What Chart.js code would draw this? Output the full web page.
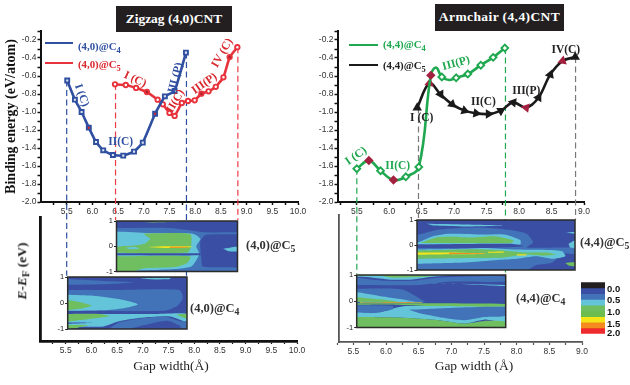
<!DOCTYPE html>
<html><head><meta charset="utf-8">
<script src="https://cdn.jsdelivr.net/npm/chart.js@4"></script>
<style>
html,body{margin:0;padding:0;background:#fff;width:630px;height:385px;overflow:hidden}
#stage{position:relative;width:630px;height:385px;filter:blur(.35px)}
canvas{position:absolute;left:0;top:0}
.t{position:absolute;font-family:"Liberation Serif",serif;font-weight:bold;white-space:nowrap;line-height:1}
.t sub{font-size:.78em;line-height:0;vertical-align:-.3em}
.box{position:absolute;background:#231f20;color:#fff;font:bold 13.5px "Liberation Serif",serif;display:flex;align-items:center;justify-content:center}
.lg{position:absolute;height:2.5px}
</style></head>
<body><div id="stage"></div>
<script>
// ---------- top panels: binding energy ----------
const zigzagC4X=[5.51,5.66,5.79,5.93,6.07,6.21,6.40,6.60,6.81,6.98,7.22,7.41,7.60,7.82];
const zigzagC4Y=[-0.65,-0.863,-1.0,-1.174,-1.333,-1.426,-1.478,-1.485,-1.44,-1.34,-1.02,-0.826,-0.767,-0.34];
const zigzagC5X=[6.44,6.65,6.85,7.06,7.27,7.37,7.5,7.60,7.74,7.86,7.99,8.12,8.26,8.40,8.55,8.67,8.82];
const zigzagC5Y=[-0.693,-0.70,-0.733,-0.778,-0.863,-0.915,-1.01,-1.044,-0.90,-0.878,-0.87,-0.796,-0.77,-0.72,-0.615,-0.39,-0.28];
const armchairC4X=[5.5,5.685,5.865,6.065,6.255,6.455,6.64,6.72,6.81,6.92,7.03,7.21,7.41,7.6,7.78];
const armchairC4Y=[-1.63,-1.54,-1.652,-1.756,-1.72,-1.61,-0.593,-0.505,-0.61,-0.645,-0.62,-0.578,-0.48,-0.393,-0.29];
const armchairC4NoMarker=[6.72,6.92];
const armchairC5X=[6.43,6.62,6.79,6.97,7.16,7.34,7.53,7.72,7.91,8.11,8.3,8.48,8.67,8.865];
const armchairC5Y=[-0.952,-0.68,-0.804,-0.915,-0.985,-1.015,-1.022,-0.985,-0.893,-0.952,-0.84,-0.585,-0.433,-0.39];
const zigzagC4Marked=[5.93,7.22], zigzagC5Marked=[7.06,8.12,8.67];
const armchairC4Marked=[5.685,6.065,6.64], armchairC5Marked=[6.62,8.11,8.67];
const armchairC5Turn=[0,10,150,130,110,100,90,60,40,160,30,20,10,0];

const zigzagGuides=[[5.5,-0.65,-2.82,'#2f4fa0'],[7.83,-0.34,-2.82,'#2f4fa0'],[6.45,-0.69,-2.2,'#ee3a45'],[8.83,-0.28,-2.2,'#ee3a45']];
const armchairGuides=[[5.5,-1.63,-2.8,'#1fa84f'],[7.79,-0.29,-2.8,'#1fa84f'],[6.45,-0.95,-2.2,'#777777'],[8.87,-0.39,-2.2,'#777777']];

const xTicksZigzag=[5.25,5.5,5.75,6,6.25,6.5,6.75,7,7.25,7.5,7.75,8,8.25,8.5,8.75,9,9.25,9.5,9.75,10];
const xTicksArmchair=[5.25,5.5,5.75,6,6.25,6.5,6.75,7,7.25,7.5,7.75,8,8.25,8.5,8.75,9];
const yTicksEnergy=[-2,-1.9,-1.8,-1.7,-1.6,-1.5,-1.4,-1.3,-1.2,-1.1,-1,-0.9,-0.8,-0.7,-0.6,-0.5,-0.4,-0.3,-0.2,-0.1];

const zigzagNotes=[['I (C)',5.79,-0.815,70,'#2f4fa0'],['II(C)',6.55,-1.337,0,'#2f4fa0'],['III (P)',7.62,-0.62,-75,'#2f4fa0'],
 ['I (C)',6.83,-0.64,25,'#d9272e'],['II(C)',7.62,-0.88,-60,'#d9272e'],['III(P)',8.18,-0.685,-35,'#d9272e'],['IV (C)',8.53,-0.345,-60,'#d9272e']];
const armchairNotes=[['I (C)',5.49,-1.49,-35,'#1fa84f'],['II(C)',6.13,-1.595,0,'#1fa84f'],['III(P)',7.03,-0.46,-15,'#1fa84f'],
 ['I (C)',6.5,-1.07,0,'#222'],['II(C)',7.45,-0.885,0,'#222'],['III(P)',8.11,-0.77,0,'#222'],['IV(C)',8.72,-0.31,0,'#222']];

// ---------- contour maps: energy (eV) against gap width ----------
const DARK='#3a4fa3',MID='#4272b8',CYAN='#64c4da',GREEN='#6fbe5f',YEL='#f3e41e',ORA='#f38b22';

const z5Mid=[[6.45,.72],[7.5,.72],[8.2,.55],[8.83,.55],[8.83,.48],[8.2,.45],[8.1,.2],[8.12,-.5],[8.15,-.8],[8.83,-.85],[8.83,-1],[6.45,-1]];
const z5CyanA=[[6.45,.58],[7.1,.52],[7.95,.5],[8.1,.3],[8.02,0],[8.08,-.3],[8.02,-.55],[7.92,-.8],[7.6,-.9],[7,-.95],[6.45,-1]];
const z5GreenA=[[6.98,.5],[7.9,.48],[7.92,.05],[7.85,-.25],[6.45,-.25],[6.45,-.03],[6.75,.02],[7,.1],[7.12,.3]];
const z5Blob=[[6.62,-.05],[6.82,-.03],[6.9,-.1],[6.7,-.12]];
const z5Gap=[[6.45,-.28],[8.1,-.28],[8.1,-.36],[6.45,-.36]];
const z5GreenB=[[6.45,-.4],[7.9,-.4],[7.85,-.65],[7.6,-.82],[7,-.87],[6.8,-.98],[6.45,-1]];
const z5Top=[[7,.93],[7.5,.96],[7.9,.98],[7.3,.99]];
const z5Stripe=[[6.45,.85],[7.2,.78],[6.7,.72],[6.45,.74]];
const z5Side=[[8.55,-.1],[8.83,-.02],[8.83,-.2],[8.65,-.2]];
const z5Yellow=[[7.05,-.03],[7.4,0],[7.85,0],[7.95,-.03],[7.4,-.07]];
const z5Orange=[[7.5,-.02],[7.85,-.02],[7.85,-.05],[7.5,-.06]];
const layersZ5=[[MID,z5Mid],[DARK,z5Stripe],[CYAN,z5CyanA],[CYAN,z5Side],[GREEN,z5GreenA],[CYAN,z5Blob],[DARK,z5Gap],[GREEN,z5GreenB],[GREEN,z5Top],[YEL,z5Yellow],[ORA,z5Orange]];

const z4Mid=[[5.5,.5],[6.5,.5],[7.68,.5],[7.75,.2],[7.65,-.1],[7.4,-.3],[5.5,-.3]];
const z4Band=[[5.5,.92],[6.2,.85],[6.8,.8],[6.2,.72],[5.5,.7]];
const z4TopCyan=[[6.9,.94],[7.2,.97],[7.5,.98],[7.5,.92],[7.2,.9]];
const z4Cyan=[[5.5,.32],[6,.28],[6.5,.15],[6.87,-.05],[6.6,-.2],[6.2,-.28],[5.5,-.3]];
const z4Green=[[5.5,.12],[5.7,.05],[5.97,-.1],[5.8,-.2],[5.5,-.27]];
const z4Gap=[[5.5,-.32],[7.83,-.34],[7.83,-.39],[5.5,-.38]];
const z4CyanLow=[[5.5,-.42],[7.2,-.42],[7.5,-.4],[7.83,-.42],[7.83,-.72],[7.5,-.52],[7,-.56],[6.5,-.7],[6.2,-.9],[5.7,-.92],[5.5,-1]];
const z4GreenLow=[[5.5,-.42],[6.1,-.42],[6.32,-.5],[6,-.6],[5.5,-.72]];
const z4GreenSide=[[7.62,-.45],[7.83,-.42],[7.83,-.62]];
const z4MidLow=[[6.3,-1],[6.5,-.75],[7,-.58],[7.4,-.52],[7.7,-.7],[7.83,-.72],[7.83,-1]];
const z4DarkLow=[[6.7,-1],[7,-.85],[7.45,-.68],[7.72,-.92],[7.6,-1]];
const z4Corner=[[5.5,-.85],[5.9,-.85],[5.7,-.95],[5.5,-1]];
const z4Stripe=[[5.5,-.75],[6,-.76],[5.5,-.8]];
const layersZ4=[[MID,z4Mid],[MID,z4Band],[CYAN,z4TopCyan],[CYAN,z4Cyan],[GREEN,z4Green],[DARK,z4Gap],[CYAN,z4CyanLow],[GREEN,z4GreenLow],[GREEN,z4GreenSide],[MID,z4MidLow],[DARK,z4DarkLow],[DARK,z4Stripe],[GREEN,z4Corner]];

const a5Mid=[[6.45,.4],[6.8,.62],[7.4,.7],[7.9,.6],[8.15,.45],[8.25,.1],[8.15,-.1],[8.9,-.12],[8.9,-.35],[8.7,-.35],[8.55,-.7],[8.3,-.8],[8.15,-1],[6.45,-1]];
const a5Band=[[6.6,.85],[7.2,.82],[7.8,.78],[7.2,.74],[6.7,.78]];
const a5CyanA=[[6.45,.08],[6.7,.35],[6.95,.45],[7.5,.42],[7.8,.42],[8.05,.2],[8.05,.02],[6.45,.02]];
const a5GreenA=[[6.5,.08],[6.75,.3],[7,.33],[7.3,.3],[7.65,.35],[7.95,.18],[7.9,.07]];
const a5Gap=[[6.45,.02],[7.9,.05],[8.1,-.05],[7.5,-.12],[6.45,-.12]];
const a5CyanB=[[6.45,-.18],[7.2,-.15],[7.5,-.12],[8,-.18],[8.5,-.2],[8.7,-.25],[8.75,-.45],[8.55,-.55],[8.3,-.45],[8,-.55],[7.7,-.6],[7.2,-.7],[6.45,-.75]];
const a5GreenB=[[6.45,-.22],[7.4,-.17],[7.8,-.22],[8.1,-.3],[8.45,-.3],[8.6,-.38],[8.4,-.42],[8.1,-.38],[7.8,-.5],[7.3,-.52],[6.45,-.55]];
const a5Yellow=[[6.45,-.3],[7,-.3],[7.5,-.34],[7.5,-.36],[7,-.37],[6.45,-.39]];
const a5Orange=[[6.95,-.31],[7.5,-.34],[7.5,-.36],[6.95,-.365]];
const a5Tip=[[7.55,-.27],[7.8,-.26],[7.8,-.3],[7.55,-.31]];
const a5Tip2=[[8,-.37],[8.15,-.38],[8.15,-.42],[8,-.42]];
const a5SideA=[[8.75,-.72],[8.9,-.7],[8.9,-.85],[8.8,-.82]];
const a5SideB=[[8.75,.5],[8.9,.52],[8.9,.45]];
const a5SideC=[[8.8,.05],[8.9,.18],[8.9,-.12],[8.82,-.1]];
const layersA5=[[MID,a5Mid],[CYAN,a5Band],[CYAN,a5CyanA],[GREEN,a5GreenA],[DARK,a5Gap],[CYAN,a5CyanB],[GREEN,a5GreenB],[YEL,a5Yellow],[ORA,a5Orange],[YEL,a5Tip],[YEL,a5Tip2],[GREEN,a5SideA],[CYAN,a5SideB],[CYAN,a5SideC]];

const a4TopMid=[[5.55,.9],[6,.78],[6.4,.78],[6.8,.9],[7.83,.95],[7.83,.75],[7,.75],[6.5,.62],[5.55,.62]];
const a4TopCyan=[[5.55,1],[7,1],[6.7,.93],[6.4,.83],[6.1,.82],[5.8,.9],[5.55,.93]];
const a4TopGreen=[[5.55,.97],[5.9,.97],[6.1,.9],[6.5,.92],[6.8,.98],[6.5,.98],[5.9,1],[5.55,1]];
const a4Stripe=[[6.7,.7],[7,.68],[7.83,.58],[7.83,.62]];
const a4Mid=[[5.55,.48],[6.25,.45],[6.55,.05],[6.6,-.05],[5.55,-.05]];
const a4Cyan=[[5.55,.35],[5.9,.2],[6.3,.05],[6.45,-.02],[5.55,-.02]];
const a4Green=[[5.55,.15],[6,.05],[6.2,-.02],[5.55,-.02]];
const a4Under=[[5.55,-.08],[7.83,-.1],[7.83,-.2],[6.7,-.18],[6,-.12],[5.55,-.13]];
const a4LineY=[[5.6,-.035],[6.55,-.04],[6.55,-.06],[5.6,-.065]];
const a4LineO=[[5.95,-.04],[6.4,-.04],[6.4,-.06],[5.95,-.06]];
const a4CyanLow=[[5.55,-.42],[5.9,-.42],[6.15,-.25],[6.3,-.18],[7.83,-.2],[7.83,-.78],[7.5,-.7],[7.2,-.85],[6.8,-.72],[6.2,-.62],[5.55,-.6]];
const a4MidLeft=[[5.55,-.15],[6.1,-.18],[6.1,-.3],[5.8,-.45],[5.55,-.42]];
const a4MidRight=[[6.35,-.32],[7.83,-.22],[7.83,-.55],[7.5,-.6],[7.2,-.72],[6.8,-.6],[6.5,-.45]];
const a4GreenLow=[[5.55,-.6],[6.2,-.62],[6.8,-.72],[7.2,-.85],[7.5,-.75],[7.83,-.78],[7.83,-1],[5.55,-1]];
const layersA4=[[MID,a4TopMid],[CYAN,a4TopCyan],[GREEN,a4TopGreen],[CYAN,a4Stripe],[MID,a4Mid],[CYAN,a4Cyan],[GREEN,a4Green],[CYAN,a4CyanLow],[GREEN,a4Under],[YEL,a4LineY],[ORA,a4LineO],[MID,a4MidLeft],[MID,a4MidRight],[GREEN,a4GreenLow]];

const colorbarColors=['#231f20','#3a4fa3','#4272b8','#64c4da','#6fbe5f','#6cbc4e','#f7e617','#f58a1f','#ee2a2e'];
const colorbarTickPos=[1.2,3.15,5.3,7.3,8.95];
const colorbarTickLabels=['0.0','0.5','1.0','1.5','2.0'];

// ---------- helpers ----------
const stage=document.getElementById('stage');
const SANS='"Liberation Sans",Arial,sans-serif', SERIF='"Liberation Serif",serif';
function makeCanvas(w=630,h=385){const c=document.createElement('canvas');c.width=w;c.height=h;c.style.width=w+'px';c.style.height=h+'px';stage.appendChild(c);return c;}
function pad(a,yW,xH){return {left:a.l-yW,right:630-a.r,top:a.t,bottom:385-a.b-xH};}
const base={responsive:false,animation:false,devicePixelRatio:1,events:[]};
function isMult(v,m){const q=v/m;return Math.abs(q-Math.round(q))<1e-6;}
const pairs=(xs,ys)=>xs.map((x,i)=>({x,y:ys[i]}));

const notesPlugin={id:'notes',afterDatasetsDraw(ch,_,o){
  const c=ch.ctx;(o.items||[]).forEach(([t,x,y,r,col])=>{c.save();c.translate(ch.scales.x.getPixelForValue(x),ch.scales.y.getPixelForValue(y));c.rotate(r*Math.PI/180);
  c.font='bold 11.5px '+SERIF;c.fillStyle=col;c.textAlign='center';c.textBaseline='middle';c.fillText(t,0,0);c.restore();});
}};
const framePlugin={id:'frame',afterDraw(ch){const a=ch.chartArea,c=ch.ctx;c.save();c.strokeStyle='#2b2b2b';c.lineWidth=1.5;c.strokeRect(a.left,a.top,a.right-a.left,a.bottom-a.top);c.restore();}};

function topChart(area,xMin,xMax,xTicks,series,guides,notes,title){
  const guideSets=guides.map(([x,y0,y1,col],i)=>({type:'scatter',label:'guide '+i,data:[{x,y:y0},{x,y:y1}],showLine:true,borderColor:col,borderWidth:1.2,borderDash:[6,3.5],pointRadius:0,clip:false,order:10}));
  new Chart(makeCanvas(),{type:'scatter',data:{datasets:[...series,...guideSets]},plugins:[notesPlugin],options:{...base,
    layout:{autoPadding:false,padding:pad(area,area.yW,14)},
    plugins:{legend:{display:false},tooltip:{enabled:false},notes:{items:notes}},
    scales:{
      x:{type:'linear',min:xMin,max:xMax,afterFit:s=>{s.height=14;},afterBuildTicks:s=>{s.ticks=xTicks.map(value=>({value}));},
        border:{color:'#111',width:2},grid:{drawOnChartArea:false,drawTicks:true,tickLength:3,tickColor:'#111',tickWidth:1.5},
        ticks:{autoSkip:false,maxRotation:0,padding:2,color:'#333',font:{family:SANS,size:8.5},callback:v=>isMult(v,.5)?v.toFixed(1):''}},
      y:{type:'linear',min:-2,max:-0.1,afterFit:s=>{s.width=area.yW;},afterBuildTicks:s=>{s.ticks=yTicksEnergy.map(value=>({value}));},
        title:title?{display:true,text:title,color:'#111',font:{family:SERIF,size:14,weight:'bold'},padding:{top:3,bottom:0}}:{display:false},
        border:{color:'#111',width:2},grid:{drawOnChartArea:false,tickLength:3.5,tickColor:'#111',tickWidth:1.5},
        ticks:{autoSkip:false,padding:1,color:'#333',font:{family:SANS,size:8.5},callback:v=>isMult(v,.2)?v.toFixed(1):''}}
    }}});
}
function series(label,xs,ys,col,marked,style,r,markFill,extra={}){
  return Object.assign({label,data:pairs(xs,ys),showLine:true,borderColor:col,borderWidth:2.6,tension:0.1,order:1,
    pointStyle:style,pointRadius:r,pointBorderWidth:1.9,pointBorderColor:col,
    pointBackgroundColor:xs.map(x=>marked.includes(x)?markFill:'#dfe4f2')},extra);
}
function lowerAxis(area,xMin,xMax,xTicks,col,lw){
  new Chart(makeCanvas(),{type:'scatter',data:{datasets:[]},options:{...base,
    layout:{autoPadding:false,padding:pad(area,0,36)},
    plugins:{legend:{display:false},tooltip:{enabled:false}},
    scales:{
      x:{type:'linear',min:xMin,max:xMax,afterFit:s=>{s.height=36;},afterBuildTicks:s=>{s.ticks=xTicks.map(value=>({value}));},
        border:{color:col,width:lw},grid:{drawOnChartArea:false,tickLength:3,tickColor:col,tickWidth:1.2},
        ticks:{autoSkip:false,maxRotation:0,padding:2,color:'#333',font:{family:SANS,size:8.5},callback:v=>isMult(v,.5)?v.toFixed(1):''}},
      y:{type:'linear',min:0,max:1,ticks:{display:false},grid:{display:false,drawTicks:false},border:{color:col,width:lw}}
    }}});
}
function inset(area,xMin,xMax,layers){
  const sets=layers.map(([col,pts],i)=>({label:'level '+i,data:pts.map(([x,y])=>({x,y})),showLine:true,fill:'shape',tension:.22,backgroundColor:col,borderWidth:0,borderColor:col,pointRadius:0,order:layers.length-i}));
  new Chart(makeCanvas(),{type:'scatter',data:{datasets:sets},plugins:[{id:'bg',beforeDatasetsDraw(ch){const a=ch.chartArea,c=ch.ctx;c.fillStyle=DARK;c.fillRect(a.left,a.top,a.right-a.left,a.bottom-a.top);}},framePlugin],options:{...base,
    layout:{autoPadding:false,padding:pad(area,16,0)},
    plugins:{legend:{display:false},tooltip:{enabled:false}},
    scales:{
      x:{type:'linear',min:xMin,max:xMax,display:false},
      y:{type:'linear',min:-1,max:1,afterFit:s=>{s.width=16;},afterBuildTicks:s=>{s.ticks=[-1,0,1].map(value=>({value}));},
        border:{display:false},grid:{drawOnChartArea:false,tickLength:2.5,tickColor:'#222',tickWidth:1},
        ticks:{padding:1,color:'#222',font:{family:SANS,size:7.5},callback:v=>String(v)}}
    }}});
}
function text(html,x,y,size,color,extra=''){const d=document.createElement('div');d.className='t';d.innerHTML=html;d.style.cssText=`left:${x}px;top:${y}px;font-size:${size}px;color:${color};${extra}`;stage.appendChild(d);return d;}
function legendLine(x0,x1,y,col){const d=document.createElement('div');d.className='lg';d.style.cssText=`left:${x0}px;width:${x1-x0}px;top:${y-1.2}px;background:${col}`;stage.appendChild(d);}

// ---------- panels ----------
topChart({l:41,r:298,t:31,b:202,yW:41},5,10,xTicksZigzag,[
  series('(4,0)@C4',zigzagC4X,zigzagC4Y,'#2f4fa0',zigzagC4Marked,'rect',2.8,'#d9272e'),
  series('(4,0)@C5',zigzagC5X,zigzagC5Y,'#e8333c',zigzagC5Marked,'circle',2.2,'#a8232e',{pointBackgroundColor:zigzagC5X.map(x=>zigzagC5Marked.includes(x)?'#a8232e':'#ffffff')})
],zigzagGuides,zigzagNotes,'Binding energy (eV/atom)');

topChart({l:338,r:584,t:31,b:202,yW:24},5.21,9,xTicksArmchair,[
  series('(4,4)@C4',armchairC4X,armchairC4Y,'#1fa84f',armchairC4Marked,'rectRot',3.4,'#a3213f',{tension:.4,
    pointRadius:armchairC4X.map(x=>armchairC4NoMarker.includes(x)?0:3.4),
    pointBorderColor:armchairC4X.map(x=>armchairC4Marked.includes(x)?'#a3213f':'#1fa84f'),
    pointBackgroundColor:armchairC4X.map(x=>armchairC4Marked.includes(x)?'#a3213f':'#ffffff')}),
  series('(4,4)@C5',armchairC5X,armchairC5Y,'#1a1a1a',[],'triangle',3.6,'#a3213f',{tension:.35,
    pointRotation:armchairC5Turn,pointBorderColor:armchairC5X.map(x=>armchairC5Marked.includes(x)?'#a3213f':'#1a1a1a'),
    pointBackgroundColor:armchairC5X.map(x=>armchairC5Marked.includes(x)?'#a3213f':'#1a1a1a')})
],armchairGuides,armchairNotes,null);

lowerAxis({l:40,r:297,t:217,b:341},5,10,xTicksZigzag,'#111',2.8);
lowerAxis({l:339,r:582,t:215,b:342},5.28,9,xTicksArmchair,'#555',1.8);

inset({l:116.5,r:237.5,t:221,b:271.5},6.45,8.83,layersZ5);
inset({l:67.7,r:187,t:277,b:329},5.5,7.83,layersZ4);
inset({l:417,r:575,t:220,b:270},6.45,8.9,layersA5);
inset({l:356.7,r:505.7,t:275,b:327.5},5.55,7.83,layersA4);

// colour bar
new Chart(makeCanvas(),{type:'bar',data:{labels:['DOS'],datasets:colorbarColors.map((c,i)=>({label:'band '+i,data:[1],backgroundColor:c,borderWidth:0,barPercentage:1,categoryPercentage:1,stack:'s'}))},options:{...base,
  layout:{autoPadding:false,padding:{left:581,right:0,top:282.3,bottom:385-333.7}},
  plugins:{legend:{display:false},tooltip:{enabled:false}},
  scales:{x:{display:false,stacked:true},
    y:{position:'right',stacked:true,reverse:true,min:0,max:9,afterFit:s=>{s.width=25;},afterBuildTicks:s=>{s.ticks=colorbarTickPos.map(value=>({value}));},
      border:{display:false},grid:{display:false,drawTicks:false},
      ticks:{autoSkip:false,padding:2,color:'#111',font:{family:SANS,size:9.5,weight:'bold'},callback:v=>colorbarTickLabels[colorbarTickPos.indexOf(v)]}}}
}});

// titles, legends, labels
const b1=document.createElement('div');b1.className='box';b1.textContent='Zigzag (4,0)CNT';b1.style.cssText='left:116px;top:6px;width:116px;height:26px';stage.appendChild(b1);
const b2=document.createElement('div');b2.className='box';b2.textContent='Armchair (4,4)CNT';b2.style.cssText='left:435px;top:4px;width:129px;height:26.5px;letter-spacing:.4px';stage.appendChild(b2);
legendLine(45,73,42.7,'#2f4fa0');legendLine(45,73,62.7,'#e8333c');
legendLine(349,378,44.7,'#1fa84f');legendLine(349,378,65,'#1a1a1a');
text('(4,0)@C<sub>4</sub>',78,41,10.8,'#2f4fa0');
text('(4,0)@C<sub>5</sub>',78,59,10.8,'#d9272e');
text('(4,4)@C<sub>4</sub>',383,39,10.8,'#1fa84f');
text('(4,4)@C<sub>5</sub>',383,60,10.8,'#222');
text('(4,0)@C<sub>5</sub>',246,239,12.5,'#333');
text('(4,0)@C<sub>4</sub>',190,302,12.5,'#333');
text('(4,4)@C<sub>5</sub>',580,236,12.5,'#333');
text('(4,4)@C<sub>4</sub>',516,292,12.5,'#333');
text('<i>E</i>-<i>E</i><sub>F</sub> (eV)',22,271,13.5,'#111','transform:translate(-50%,-50%) rotate(-90deg);');
text('Gap width(Å)',171,366,13.5,'#222','font-weight:normal;transform:translate(-50%,-50%);');
text('Gap width (Å)',474,366,13.5,'#222','font-weight:normal;transform:translate(-50%,-50%);');
</script>
</body></html>
